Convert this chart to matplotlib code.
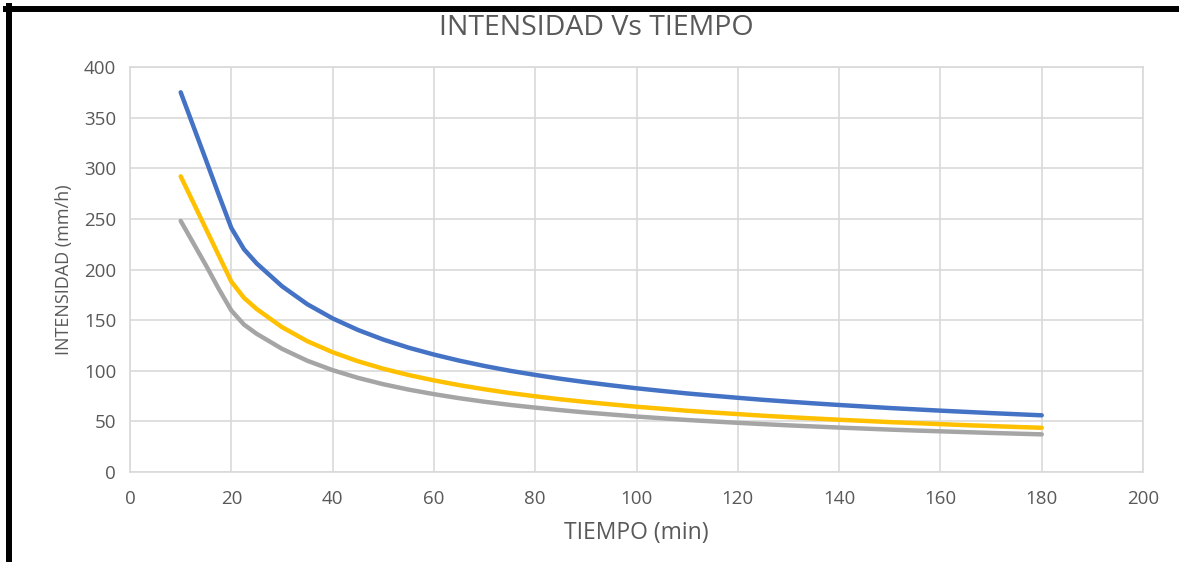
import matplotlib.pyplot as plt
from matplotlib.lines import Line2D

# duration (min) and rainfall intensity (mm/h) for the three curves
tiempo = [10, 15, 17.5, 20, 22.5, 25, 30, 35, 40, 45, 50, 55, 60, 65, 70, 75,
          80, 85, 90, 95, 100, 105, 110, 115, 120, 125, 130, 135, 140, 145,
          150, 155, 160, 165, 170, 175, 180]

serie_azul = [375.0, 308.0, 274.0, 241.0, 220.0, 206.0, 183.5, 165.7, 151.7,
              140.3, 130.8, 122.8, 116.0, 110.0, 104.7, 100.0, 95.9, 92.1,
              88.7, 85.6, 82.7, 80.1, 77.6, 75.4, 73.3, 71.3, 69.5, 67.8,
              66.2, 64.7, 63.2, 61.9, 60.6, 59.4, 58.2, 57.1, 56.0]

serie_amarilla = [292.0, 240.0, 214.0, 188.0, 172.0, 161.0, 143.1, 129.2,
                  118.3, 109.4, 102.0, 95.8, 90.5, 85.8, 81.7, 78.0, 74.8,
                  71.8, 69.2, 66.8, 64.5, 62.5, 60.5, 58.8, 57.2, 55.6, 54.2,
                  52.9, 51.6, 50.5, 49.3, 48.3, 47.3, 46.3, 45.4, 44.5, 43.7]

serie_gris = [248.0, 204.0, 181.0, 159.5, 145.6, 136.5, 121.7, 109.9, 100.6,
              93.0, 86.7, 81.4, 76.9, 72.9, 69.4, 66.3, 63.6, 61.1, 58.8,
              56.8, 54.8, 53.1, 51.4, 50.0, 48.6, 47.3, 46.1, 45.0, 43.9,
              42.9, 41.9, 41.0, 40.2, 39.4, 38.6, 37.9, 37.2]

xticks = list(range(0, 201, 20))
yticks = list(range(0, 401, 50))

plt.rcParams['font.family'] = ['Open Sans', 'DejaVu Sans']

fig = plt.figure(figsize=(11.79, 5.62), dpi=100)
ax = fig.add_axes([0.1103, 0.1601, 0.8592, 0.7207])

ax.plot(tiempo, serie_azul, color='#4472C4', lw=3.2, solid_capstyle='round')
ax.plot(tiempo, serie_amarilla, color='#FFC000', lw=3.2, solid_capstyle='round')
ax.plot(tiempo, serie_gris, color='#A5A5A5', lw=3.2, solid_capstyle='round')

ax.set_xlim(0, 200)
ax.set_ylim(0, 400)
ax.set_xticks(xticks)
ax.set_yticks(yticks)
ax.grid(True, color='#D9D9D9', lw=1.2)
ax.set_axisbelow(True)
for s in ax.spines.values():
    s.set_color('#D9D9D9')
    s.set_linewidth(1.2)
ax.tick_params(length=0, labelsize=13.5, labelcolor='#595959')
ax.tick_params(axis='x', pad=13)
ax.tick_params(axis='y', pad=10)

# chart title sits centred on the whole chart area, not the plot area
fig.text(0.506, 1 - 28 / 562, 'INTENSIDAD Vs TIEMPO', fontsize=20.5,
         color='#595959', ha='center', va='center')
ax.set_xlabel('TIEMPO (min)', fontsize=16.5, color='#595959', labelpad=9)
ax.set_ylabel('INTENSIDAD (mm/h)', fontsize=13, color='#595959', labelpad=8)

# black frame on the top and left edges
fig.add_artist(Line2D([6 / 1179, 1], [1 - 9 / 562, 1 - 9 / 562],
                      transform=fig.transFigure, color='black', lw=4.3))
fig.add_artist(Line2D([9 / 1179, 9 / 1179], [1 - 6 / 562, 0],
                      transform=fig.transFigure, color='black', lw=4.3))

fig.savefig('out.png', dpi=100)
